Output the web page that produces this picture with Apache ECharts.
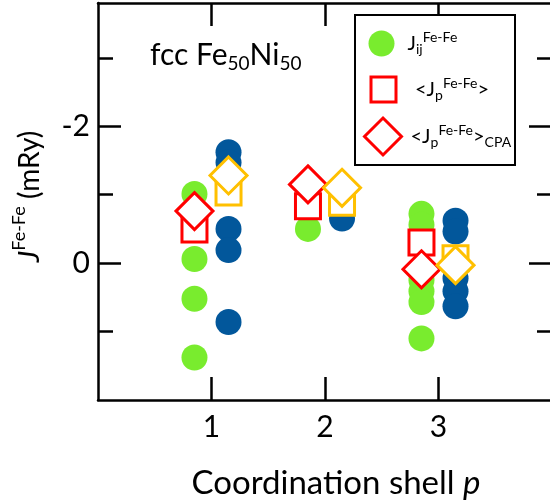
<!DOCTYPE html>
<html>
<head>
<meta charset="utf-8">
<script src="https://cdn.jsdelivr.net/npm/echarts@6/dist/echarts.min.js"></script>
<style>html,body{margin:0;padding:0;background:#fff;}#c{width:550px;height:503px;}</style>
</head>
<body>
<div id="c"></div>
<script>
// ---- data ----
const shells = [1, 2, 3];
const xTickValues = [1, 2, 3];
const yMajorTicks = [-2, 0];
const yMinorTicks = [-3, -1, 1];
// J_ij^{Fe-Fe} individual pair values per shell (green set)
const jijGreen = [
  [-1.01, -0.06, 0.52, 1.38],
  [-0.50],
  [-0.72, -0.56, 0.25, 0.41, 0.57, 1.10]
];
// second set of pair values (blue)
const jijBlue = [
  [-1.62, -1.47, -0.50, -0.19, 0.86],
  [-0.65],
  [-0.62, -0.46, 0.22, 0.41, 0.63]
];
const jpRed = [-0.49, -0.83, -0.30];        // <Jp> (red squares)
const jpCpaRed = [-0.76, -1.15, 0.09];      // <Jp>_CPA (red diamonds)
const jpOrange = [-1.03, -0.88, -0.07];     // <Jp> (orange squares)
const jpCpaOrange = [-1.28, -1.10, 0.03];   // <Jp>_CPA (orange diamonds)

// ---- layout / style ----
const shift = 0.15;
const FONT = 'Lato';
const green = '#79ec2e', blue = '#02579b', red = '#ff0000', orange = '#ffc000';

const pts = (groups, dx) => groups.flatMap((vals, i) => vals.map(v => [shells[i] + dx, v]));
const one = (vals, dx) => vals.map((v, i) => [shells[i] + dx, v]);

const chart = echarts.init(document.getElementById('c'), null, {renderer: 'canvas'});

const yCommon = {type: 'value', min: -3.8, max: 2, inverse: true, splitLine: {show: false}};
const lineSt = {color: '#000', width: 2.5};

const supRich = {
  n: {fontFamily: FONT, fontSize: 20, color: '#000', lineHeight: 26, verticalAlign: 'middle'},
  sup: {fontFamily: FONT, fontSize: 14, color: '#000', lineHeight: 14, verticalAlign: 'top'},
  sub: {fontFamily: FONT, fontSize: 14, color: '#000', lineHeight: 14, verticalAlign: 'bottom'}
};

chart.setOption({
  animation: false,
  backgroundColor: '#fff',
  textStyle: {fontFamily: FONT},
  title: {
    left: 150, top: 37, padding: 0,
    text: '{m|fcc Fe}{s|50}{m|Ni}{s|50}',
    textStyle: {
      fontWeight: 'normal',
      rich: {
        m: {fontFamily: FONT, fontSize: 30, fontWeight: 'normal', color: '#000', lineHeight: 36, verticalAlign: 'middle'},
        s: {fontFamily: FONT, fontSize: 19, fontWeight: 'normal', color: '#000', lineHeight: 19, verticalAlign: 'bottom'}
      }
    }
  },
  grid: {left: 98, top: 3, width: 454, height: 397, outerBoundsMode: 'none', containLabel: false},
  xAxis: [
    {
      type: 'value', min: 0, max: 4, position: 'bottom', splitLine: {show: false},
      axisLine: {onZero: false, lineStyle: lineSt},
      axisTick: {inside: true, length: 23, customValues: xTickValues, lineStyle: lineSt},
      axisLabel: {customValues: xTickValues, fontFamily: FONT, fontSize: 30, color: '#000', margin: 12},
      name: 'Coordination shell {i|p}', nameLocation: 'middle', nameGap: 67,
      nameTextStyle: {fontFamily: FONT, fontSize: 33, color: '#000', padding: [0, 0, 0, 22],
        rich: {i: {fontFamily: FONT, fontSize: 33, fontStyle: 'italic', color: '#000'}}}
    },
    {
      type: 'value', min: 0, max: 4, position: 'top', splitLine: {show: false},
      axisLine: {onZero: false, lineStyle: lineSt},
      axisTick: {inside: true, length: 23, customValues: xTickValues, lineStyle: lineSt},
      axisLabel: {show: false}
    }
  ],
  yAxis: [
    Object.assign({}, yCommon, {
      position: 'left',
      axisLine: {onZero: false, lineStyle: lineSt},
      axisTick: {inside: true, length: 23, customValues: yMajorTicks, lineStyle: lineSt},
      axisLabel: {customValues: yMajorTicks, fontFamily: FONT, fontSize: 30, color: '#000', margin: 8},
      name: '{j|J}{s|Fe-Fe}{n| (mRy)}', nameLocation: 'middle', nameGap: 54,
      nameTextStyle: {
        padding: [0, 0, 0, 10],
        rich: {
          j: {fontFamily: FONT, fontSize: 29, fontStyle: 'italic', color: '#000', lineHeight: 34, verticalAlign: 'bottom'},
          s: {fontFamily: FONT, fontSize: 18, color: '#000', lineHeight: 30, verticalAlign: 'top'},
          n: {fontFamily: FONT, fontSize: 28, color: '#000', lineHeight: 34, verticalAlign: 'bottom'}
        }
      }
    }),
    Object.assign({}, yCommon, {
      position: 'left',
      axisLine: {show: false, onZero: false},
      axisTick: {inside: true, length: 15, customValues: yMinorTicks, lineStyle: lineSt},
      axisLabel: {show: false}
    }),
    Object.assign({}, yCommon, {
      position: 'right',
      axisLine: {onZero: false, lineStyle: lineSt},
      axisTick: {inside: true, length: 23, customValues: yMajorTicks, lineStyle: lineSt},
      axisLabel: {show: false}
    }),
    Object.assign({}, yCommon, {
      position: 'right',
      axisLine: {show: false, onZero: false},
      axisTick: {inside: true, length: 15, customValues: yMinorTicks, lineStyle: lineSt},
      axisLabel: {show: false}
    })
  ],
  graphic: [{
    type: 'rect', z: 10,
    shape: {x: 355, y: 15, width: 160, height: 150},
    style: {fill: '#fff', stroke: '#000', lineWidth: 2}
  }],
  legend: [
    {
      data: ['Jij'], selectedMode: false, z: 20, padding: 0,
      left: 368.5, top: 30.5, itemWidth: 26, itemHeight: 26,
      icon: 'circle',
      formatter: () => '{p|}{n|J}{sub|ij}{sup|Fe-Fe}',
      textStyle: {rich: Object.assign({p: {width: 8}}, supRich)}
    },
    {
      data: ['Jp'], selectedMode: false, z: 20, padding: 0,
      left: 369.5, top: 75.5, itemWidth: 25, itemHeight: 25,
      icon: 'rect',
      itemStyle: {borderWidth: 3},
      formatter: () => '{p|}{n|<J}{sub|p}{sup|Fe-Fe}{n|>}',
      textStyle: {rich: Object.assign({p: {width: 14}}, supRich)}
    },
    {
      data: ['JpCPA'], selectedMode: false, z: 20, padding: 0,
      left: 363, top: 116.5, itemWidth: 37, itemHeight: 37,
      icon: 'diamond',
      itemStyle: {borderWidth: 3},
      formatter: () => '{p|}{n|<J}{sub|p}{sup|Fe-Fe}{n|>}{sub|CPA}',
      textStyle: {rich: Object.assign({p: {width: 4}}, supRich)}
    }
  ],
  series: [
    {name: 'Jij', type: 'scatter', symbol: 'circle', symbolSize: 26,
     itemStyle: {color: green, opacity: 1}, data: pts(jijGreen, -shift)},
    {name: 'Jij2', type: 'scatter', symbol: 'circle', symbolSize: 26,
     itemStyle: {color: blue, opacity: 1}, data: pts(jijBlue, shift)},
    {name: 'Jp', type: 'scatter', symbol: 'rect', symbolSize: 25,
     itemStyle: {color: '#fff', borderColor: red, borderWidth: 3, opacity: 1}, data: one(jpRed, -shift)},
    {name: 'Jp2', type: 'scatter', symbol: 'rect', symbolSize: 25,
     itemStyle: {color: '#fff', borderColor: orange, borderWidth: 3, opacity: 1}, data: one(jpOrange, shift)},
    {name: 'JpCPA', type: 'scatter', symbol: 'diamond', symbolSize: 37,
     itemStyle: {color: '#fff', borderColor: red, borderWidth: 3, opacity: 1}, data: one(jpCpaRed, -shift)},
    {name: 'JpCPA2', type: 'scatter', symbol: 'diamond', symbolSize: 37,
     itemStyle: {color: '#fff', borderColor: orange, borderWidth: 3, opacity: 1}, data: one(jpCpaOrange, shift)}
  ]
});
</script>
</body>
</html>
